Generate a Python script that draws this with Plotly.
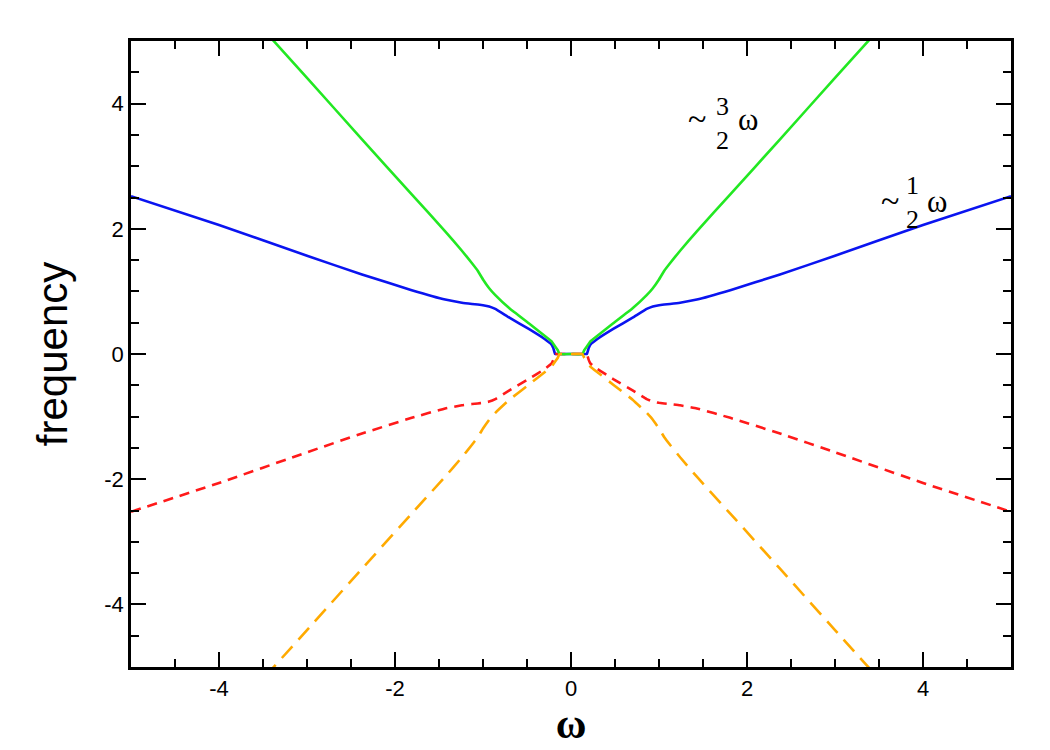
import plotly.graph_objects as go

omega = [-5, -4, -3, -2.375, -1.81, -1.43, -1.24, -1.125, -1.06, -1.0, -0.93, -0.86, -0.7, -0.48,
         -0.3, -0.22, -0.2, -0.18, -0.15, -0.13, 0, 0.13, 0.15, 0.18, 0.2, 0.22, 0.3, 0.48,
         0.7, 0.86, 0.93, 1.0, 1.06, 1.125, 1.24, 1.43, 1.81, 2.375, 3, 4, 5]

blue_pos = [2.52, 2.06, 1.57, 1.27, 1.02, 0.87, 0.82, 0.80, 0.79, 0.78, 0.76, 0.72, 0.58, 0.40,
            0.24, 0.15, 0.09, 0.0, 0.0, 0.0, 0.0, 0.0, 0.0, 0.0, 0.09, 0.15, 0.24, 0.40,
            0.58, 0.72, 0.76, 0.78, 0.79, 0.80, 0.82, 0.87, 1.02, 1.27, 1.57, 2.06, 2.52]

green_pos = [7.53, 5.97, 4.41, 3.43, 2.55, 1.96, 1.65, 1.45, 1.33, 1.19, 1.05, 0.94, 0.73, 0.49,
             0.29, 0.20, 0.16, 0.12, 0.06, 0.0, 0.0, 0.0, 0.06, 0.12, 0.16, 0.20, 0.29, 0.49,
             0.73, 0.94, 1.05, 1.19, 1.33, 1.45, 1.65, 1.96, 2.55, 3.43, 4.41, 5.97, 7.53]

red_neg = [-2.52, -2.06, -1.57, -1.27, -1.02, -0.87, -0.82, -0.80, -0.79, -0.78, -0.76, -0.72, -0.58, -0.40,
           -0.24, -0.15, -0.09, 0.0, 0.0, 0.0, 0.0, 0.0, 0.0, 0.0, -0.09, -0.15, -0.24, -0.40,
           -0.58, -0.72, -0.76, -0.78, -0.79, -0.80, -0.82, -0.87, -1.02, -1.27, -1.57, -2.06, -2.52]

orange_neg = [-7.53, -5.97, -4.41, -3.43, -2.55, -1.96, -1.65, -1.45, -1.33, -1.19, -1.05, -0.94, -0.73, -0.49,
              -0.29, -0.20, -0.16, -0.12, -0.06, 0.0, 0.0, 0.0, -0.06, -0.12, -0.16, -0.20, -0.29, -0.49,
              -0.73, -0.94, -1.05, -1.19, -1.33, -1.45, -1.65, -1.96, -2.55, -3.43, -4.41, -5.97, -7.53]

tick_vals = [-4, -2, 0, 2, 4]
tick_text = ["-4", "-2", "0", "2", "4"]

fig = go.Figure()
fig.add_trace(go.Scatter(x=omega, y=blue_pos, mode="lines",
                         line=dict(color="#0a14f0", width=2.6, shape="spline", smoothing=0.3)))
fig.add_trace(go.Scatter(x=omega, y=red_neg, mode="lines",
                         line=dict(color="#ff1a1a", width=2.6, dash="10px,7px", shape="spline", smoothing=0.3)))
fig.add_trace(go.Scatter(x=omega, y=green_pos, mode="lines",
                         line=dict(color="#22e822", width=2.6, shape="spline", smoothing=0.3)))
fig.add_trace(go.Scatter(x=omega, y=orange_neg, mode="lines",
                         line=dict(color="#ffaa00", width=2.6, dash="16px,9px", shape="spline", smoothing=0.3)))

serif = "Liberation Serif, Times New Roman, serif"
ann = [
    ("~", 1.43, 3.76, 34), ("3<br>2", 1.727, 3.675, 26), ("ω", 2.011, 3.75, 31),
    ("~", 3.625, 2.45, 34), ("1<br>2", 3.886, 2.424, 26), ("ω", 4.159, 2.44, 31),
]
for t, x, y, s in ann:
    fig.add_annotation(x=x, y=y, text=t, showarrow=False, xanchor="center", yanchor="middle",
                       font=dict(family=serif, size=s, color="black"))

axis_common = dict(
    range=[-5, 5], tickvals=tick_vals, ticktext=tick_text, ticks="inside", ticklen=15, tickwidth=2,
    tickcolor="black", showline=True, linecolor="black", linewidth=2.5, mirror="ticks",
    showgrid=False, zeroline=False,
    tickfont=dict(family="Liberation Sans, Arial, sans-serif", size=22, color="black"),
    minor=dict(dtick=0.5, ticks="inside", ticklen=8, tickwidth=2, tickcolor="black", showgrid=False),
)

fig.update_layout(
    width=1050, height=750,
    margin=dict(l=131, r=39, t=41, b=83),
    plot_bgcolor="white", paper_bgcolor="white",
    showlegend=False,
    xaxis=dict(**axis_common,
               title=dict(text="<b>ω</b>", font=dict(family=serif, size=42, color="black"), standoff=0)),
    yaxis=dict(**axis_common,
               title=dict(text="frequency", font=dict(family="Liberation Sans, Arial, sans-serif", size=42, color="black"), standoff=24)),
)

fig.write_html("out.html")
